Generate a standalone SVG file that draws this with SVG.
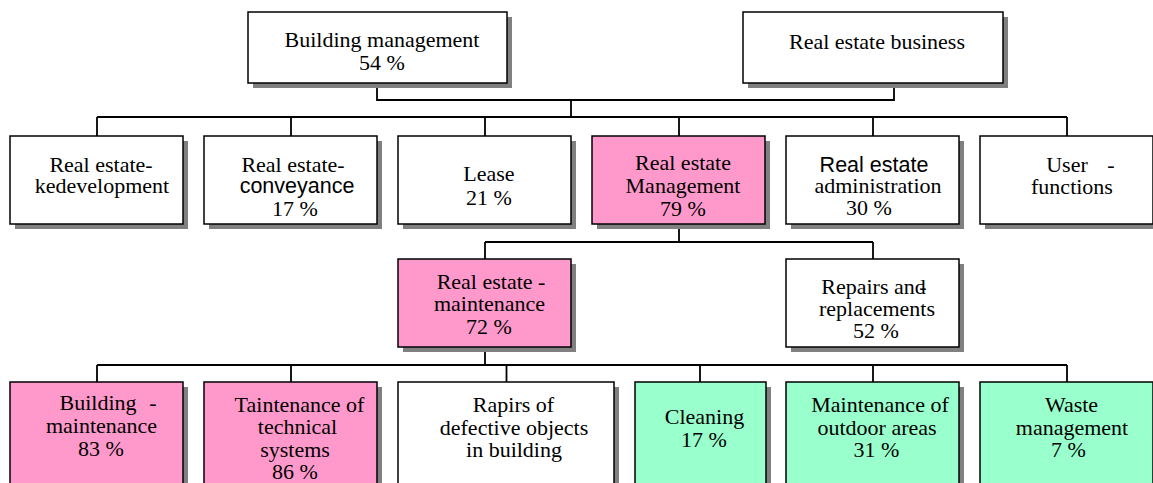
<svg xmlns="http://www.w3.org/2000/svg" width="1153" height="483" viewBox="0 0 1153 483">
<style>
.sh{fill:#808080;stroke:none}
.bx{stroke:#000;stroke-width:1.5}
.w{fill:#fff}
.p{fill:#ff99cc}
.g{fill:#99ffcc}
.t{font-family:"Liberation Serif","Times New Roman",serif;font-size:22px;fill:#000;text-anchor:middle}
.s{font-family:"Liberation Sans",Arial,sans-serif;font-size:21.5px}
.ln{stroke:#000;stroke-width:1.8;fill:none}
</style>
<rect width="1153" height="483" fill="#fff"/>
<g id="connectors" class="ln">
<path d="M377,83V100H894V83M571,100V117M97,117H1067M97,117V136M291,117V136M485,117V136M679,117V136M873,117V136M1067,117V136"/>
<path d="M679,224V242M485,242H873M485,242V259M873,242V259"/>
<path d="M485,347V365M97,365H1067M97,365V382M291,365V382M506.5,365V382M700,365V382M873,365V382M1067,365V382"/>
</g>
<g id="building-management">
<rect class="sh" x="253" y="17" width="259" height="71"/>
<rect class="bx w" x="248" y="12" width="259" height="71"/>
<text class="t"><tspan x="382" y="47">Building management</tspan><tspan x="382" y="69.5">54 %</tspan></text>
</g>
<g id="real-estate-business">
<rect class="sh" x="748" y="17" width="260" height="71"/>
<rect class="bx w" x="743" y="12" width="260" height="71"/>
<text class="t" x="877" y="48.5">Real estate business</text>
</g>
<g id="redevelopment">
<rect class="sh" x="15" y="141" width="173" height="88"/>
<rect class="bx w" x="10" y="136" width="173" height="88"/>
<text class="t"><tspan x="101" y="172">Real estate-</tspan><tspan x="102" y="193">kedevelopment</tspan></text>
</g>
<g id="conveyance">
<rect class="sh" x="209" y="141" width="173" height="88"/>
<rect class="bx w" x="204" y="136" width="173" height="88"/>
<text class="t"><tspan x="293" y="172">Real estate-</tspan><tspan class="s" x="297" y="193">conveyance</tspan><tspan x="295" y="215.5">17 %</tspan></text>
</g>
<g id="lease">
<rect class="sh" x="403" y="141" width="173" height="88"/>
<rect class="bx w" x="398" y="136" width="173" height="88"/>
<text class="t"><tspan x="489" y="181">Lease</tspan><tspan x="489" y="204.5">21 %</tspan></text>
</g>
<g id="re-management">
<rect class="sh" x="597" y="141" width="173" height="88"/>
<rect class="bx p" x="592" y="136" width="173" height="88"/>
<text class="t"><tspan x="683" y="170">Real estate</tspan><tspan x="683" y="192.5">Management</tspan><tspan x="683" y="216">79 %</tspan></text>
</g>
<g id="re-administration">
<rect class="sh" x="791" y="141" width="173" height="88"/>
<rect class="bx w" x="786" y="136" width="173" height="88"/>
<text class="t"><tspan class="s" x="874" y="171.5">Real estate</tspan><tspan x="878" y="193">administration</tspan><tspan x="869" y="215">30 %</tspan></text>
</g>
<g id="user-functions">
<rect class="sh" x="985" y="141" width="173" height="88"/>
<rect class="bx w" x="980" y="136" width="173" height="88"/>
<text class="t"><tspan x="1067" y="171.5">User</tspan><tspan x="1111" y="171.5">-</tspan><tspan x="1072" y="194">functions</tspan></text>
</g>
<g id="re-maintenance">
<rect class="sh" x="403" y="264" width="173" height="88"/>
<rect class="bx p" x="398" y="259" width="173" height="88"/>
<text class="t"><tspan x="491" y="289">Real estate -</tspan><tspan x="489.5" y="311">maintenance</tspan><tspan x="489" y="334">72 %</tspan></text>
</g>
<g id="repairs">
<rect class="sh" x="791" y="264" width="173" height="88"/>
<rect class="bx w" x="786" y="259" width="173" height="88"/>
<text class="t"><tspan x="873.5" y="293.5">Repairs and</tspan><tspan x="923" y="293.5">-</tspan><tspan x="877" y="316">replacements</tspan><tspan x="876" y="338">52 %</tspan></text>
</g>
<g id="building-maintenance">
<rect class="sh" x="15" y="387" width="173" height="110"/>
<rect class="bx p" x="10" y="382" width="173" height="110"/>
<text class="t"><tspan x="98" y="410">Building</tspan><tspan x="153" y="410">-</tspan><tspan x="101.5" y="433">maintenance</tspan><tspan x="101" y="456">83 %</tspan></text>
</g>
<g id="technical-systems">
<rect class="sh" x="209" y="387" width="173" height="110"/>
<rect class="bx p" x="204" y="382" width="173" height="110"/>
<text class="t"><tspan x="299.5" y="411.5">Taintenance of</tspan><tspan x="297.5" y="434">technical</tspan><tspan x="295" y="456.5">systems</tspan><tspan x="295" y="479">86 %</tspan></text>
</g>
<g id="defective-objects">
<rect class="sh" x="403" y="387" width="216" height="110"/>
<rect class="bx w" x="398" y="382" width="216" height="110"/>
<text class="t"><tspan x="513.5" y="412">Rapirs of</tspan><tspan x="514" y="434.5">defective objects</tspan><tspan x="514" y="457">in building</tspan></text>
</g>
<g id="cleaning">
<rect class="sh" x="640" y="387" width="131" height="110"/>
<rect class="bx g" x="635" y="382" width="131" height="110"/>
<text class="t"><tspan x="704.5" y="424">Cleaning</tspan><tspan x="704" y="446.5">17 %</tspan></text>
</g>
<g id="outdoor-areas">
<rect class="sh" x="791" y="387" width="173" height="110"/>
<rect class="bx g" x="786" y="382" width="173" height="110"/>
<text class="t"><tspan x="880" y="412">Maintenance of</tspan><tspan x="877" y="434.5">outdoor areas</tspan><tspan x="876.5" y="457">31 %</tspan></text>
</g>
<g id="waste-management">
<rect class="sh" x="985" y="387" width="173" height="110"/>
<rect class="bx g" x="980" y="382" width="173" height="110"/>
<text class="t"><tspan x="1071.5" y="412">Waste</tspan><tspan x="1072" y="434.5">management</tspan><tspan x="1068.5" y="457">7 %</tspan></text>
</g>
</svg>
